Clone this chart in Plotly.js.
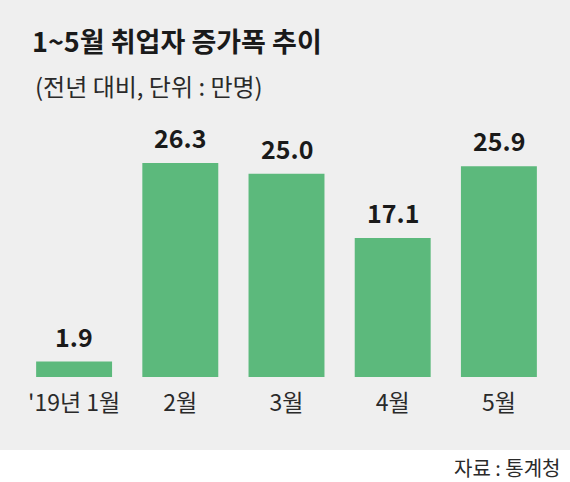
<!DOCTYPE html>
<html>
<head>
<meta charset="utf-8">
<script src="https://cdn.plot.ly/plotly-3.0.1.min.js"></script>
<style>
  html, body { margin: 0; padding: 0; background: #ffffff; }
  #chart { width: 570px; height: 482px; }
</style>
</head>
<body>
<div id="chart"></div>
<script>
  // 1~5월 취업자 증가폭 (전년 대비, 만명)
  var months = ["'19년 1월", "2월", "3월", "4월", "5월"];
  var increase = [1.9, 26.3, 25.0, 17.1, 25.9];
  var valueLabels = ["1.9", "26.3", "25.0", "17.1", "25.9"];

  var KR = "'Noto Sans CJK KR', 'Noto Sans', sans-serif";
  var BAR = "#5cb97c";
  var BG = "#efefef";

  // plot area: left 21px, width 531px, top 133px, height 244px
  var W = 570, H = 482, L = 21, R = 18, T = 133, B = 105;
  var pw = W - L - R, ph = H - T - B;
  function px2x(px) { return (px - L) / pw; }
  function px2y(py) { return (H - B - py) / ph; }

  var idx = months.map(function (m, i) { return i; });

  var trace = {
    type: "bar",
    x: idx,
    y: increase,
    marker: { color: BAR, line: { width: 0 } },
    hoverinfo: "skip"
  };

  var annotations = idx.map(function (i) {
    return {
      x: i, y: increase[i], xref: "x", yref: "y",
      text: "<b>" + valueLabels[i] + "</b>", showarrow: false,
      yanchor: "bottom", yshift: 6,
      font: { family: KR, size: 25, color: "#1a1a1a" }
    };
  });
  annotations.push({
    xref: "paper", yref: "paper", x: px2x(33), y: px2y(85),
    xanchor: "left", yanchor: "middle", showarrow: false,
    text: "(전년 대비, 단위 : 만명)",
    font: { family: KR, size: 24, color: "#2a2a2a" }
  });
  annotations.push({
    xref: "paper", yref: "paper", x: px2x(562), y: px2y(467),
    xanchor: "right", yanchor: "middle", showarrow: false, borderpad: 0,
    text: "자료 : 통계청",
    font: { family: KR, size: 20, color: "#2a2a2a" }
  });

  var layout = {
    width: W, height: H,
    margin: { l: L, r: R, t: T, b: B, pad: 0 },
    paper_bgcolor: "#ffffff",
    plot_bgcolor: "rgba(0,0,0,0)",
    bargap: 0.285,
    showlegend: false,
    title: {
      text: "<b>1~5월 취업자 증가폭 추이</b>",
      x: 32 / W, xanchor: "left", xref: "container",
      y: 1 - 43 / H, yanchor: "middle", yref: "container",
      font: { family: KR, size: 27, color: "#1a1a1a" }
    },
    xaxis: {
      range: [-0.5, 4.5], tickmode: "array", tickvals: idx, ticktext: months,
      showgrid: false, zeroline: false, showline: false, ticks: "",
      ticklabelstandoff: 10,
      tickfont: { family: KR, size: 23, color: "#2a2a2a" }, fixedrange: true
    },
    yaxis: {
      range: [0, 30], visible: false, showgrid: false, zeroline: false, fixedrange: true
    },
    shapes: [{
      type: "rect", layer: "below", xref: "paper", yref: "paper",
      x0: px2x(0), x1: px2x(W), y0: px2y(450), y1: px2y(0),
      fillcolor: BG, line: { width: 0 }
    }],
    annotations: annotations
  };

  Plotly.newPlot("chart", [trace], layout, { displayModeBar: false, staticPlot: true });
</script>
</body>
</html>
